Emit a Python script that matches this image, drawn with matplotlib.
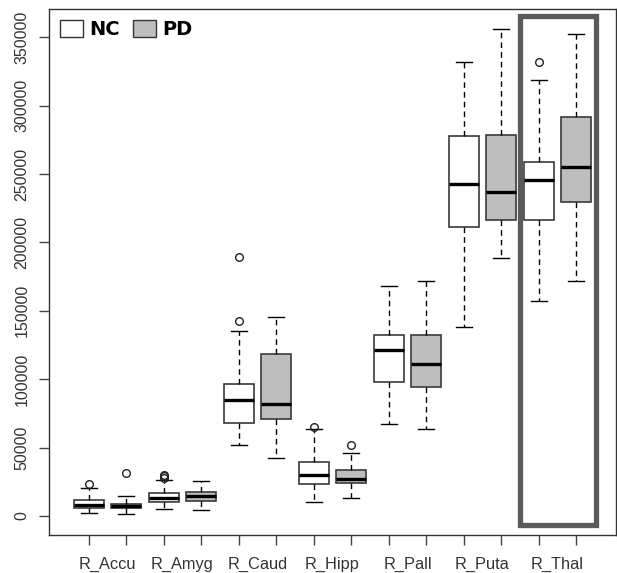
import matplotlib
matplotlib.use("Agg")
import matplotlib.pyplot as plt
from matplotlib.patches import Patch, Rectangle

regions = ["R_Accu", "R_Amyg", "R_Caud", "R_Hipp", "R_Pall", "R_Puta", "R_Thal"]
groups = ["NC", "PD"]

# per region: [NC, PD]
whislo = [[2000, 1200], [4900, 4400], [51900, 42600], [10200, 12900],
          [67300, 63600], [138400, 188800], [156900, 171800]]
q1 = [[5600, 5600], [10000, 11000], [67800, 70700], [23400, 24400],
      [98200, 94500], [211000, 216100], [216100, 229500]]
med = [[7800, 7300], [12900, 14600], [85000, 82100], [30200, 27300],
       [121300, 110900], [242500, 237100], [245400, 254900]]
q3 = [[11700, 9000], [16600, 17500], [96700, 118200], [39700, 33800],
      [132600, 132600], [277600, 278500], [258600, 291700]]
whishi = [[20470, 14600], [26300, 25600], [135200, 145700], [63600, 46300],
          [167900, 171600], [331900, 356200], [318500, 352600]]
fliers = [[[23600], [31400]], [[28000, 29000, 30000], []], [[142500, 189600], []],
          [[65300], [51700]], [[], []], [[], []], [[331900], []]]

fill_colors = ["white", "#bebebe"]

fig = plt.figure(figsize=(6.17, 5.73), dpi=100)
ax = fig.add_axes([49 / 617, (573 - 535) / 573, (616 - 49) / 617, (535 - 9.3) / 573])

stats = []
positions = []
colors = []
for i in range(len(regions)):
    for g in range(2):
        stats.append(dict(med=med[i][g], q1=q1[i][g], q3=q3[i][g],
                          whislo=whislo[i][g], whishi=whishi[i][g],
                          fliers=fliers[i][g]))
        positions.append(2 * i + g + 1)
        colors.append(fill_colors[g])

bp = ax.bxp(stats, positions=positions, widths=0.8, patch_artist=True,
            capwidths=0.42,
            boxprops=dict(edgecolor="#3a3a3a", linewidth=1.2),
            medianprops=dict(color="black", linewidth=2.4),
            whiskerprops=dict(color="black", linewidth=1.0, linestyle=(0, (4, 3))),
            capprops=dict(color="black", linewidth=1.0),
            flierprops=dict(marker="o", markerfacecolor="none",
                            markeredgecolor="#222222", markersize=5.5,
                            markeredgewidth=1.0))
for patch, c in zip(bp["boxes"], colors):
    patch.set_facecolor(c)

ax.set_xlim(-0.06, 15.06)
ax.set_ylim(-13900, 370400)

ax.set_xticks(positions)
ax.set_xticklabels([])
ax.set_xticks([2 * i + 1.5 for i in range(len(regions))], minor=True)
ax.set_xticklabels(regions, minor=True, fontsize=11.8, family="Liberation Sans",
                   color="#333333")
ax.tick_params(axis="x", which="major", length=7, width=1, color="#444444")
ax.tick_params(axis="x", which="minor", length=0, pad=15.5)

yt = list(range(0, 350001, 50000))
ax.set_yticks(yt)
ax.set_yticklabels([str(v) for v in yt], rotation=90, va="center",
                   fontsize=11.5, family="Liberation Sans", color="#333333")
ax.tick_params(axis="y", length=7, width=1, color="#444444", pad=7)

for s in ax.spines.values():
    s.set_color("#333333")
    s.set_linewidth(1.0)

# highlight rectangle
rect = Rectangle((12.5, -6600), 14.53 - 12.5, 365600 + 6600, fill=False,
                 edgecolor="#5a5a5a", linewidth=3.8, clip_on=False, zorder=5)
ax.add_patch(rect)

handles = [Patch(facecolor=fill_colors[g], edgecolor="#333333", linewidth=1.0)
           for g in range(2)]
leg = ax.legend(handles, groups, loc="upper left", ncol=2, frameon=False,
                prop=dict(weight="bold", size=14), handlelength=1.2,
                handleheight=1.0, handletextpad=0.3, columnspacing=0.7,
                borderaxespad=0.3, borderpad=0.25)

fig.savefig("out.png", dpi=100)
